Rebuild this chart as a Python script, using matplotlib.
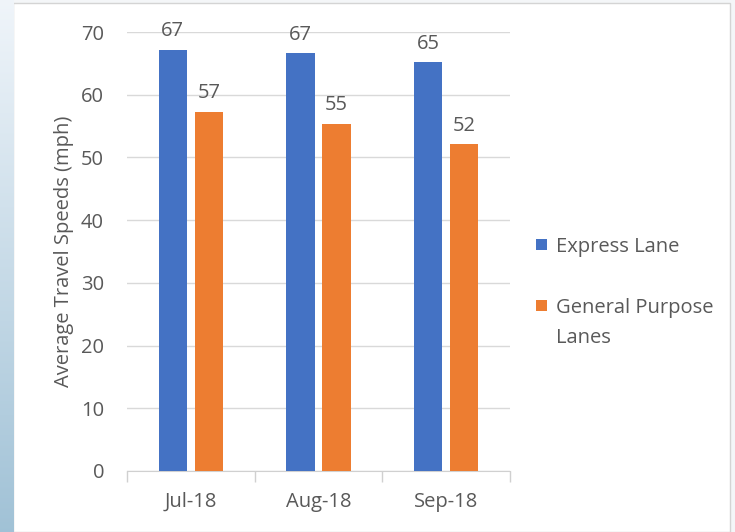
import matplotlib.pyplot as plt
from matplotlib.patches import Rectangle
import numpy as np

plt.rcParams['font.family'] = ['Open Sans', 'DejaVu Sans']

months = ["Jul-18", "Aug-18", "Sep-18"]
express = [67.2, 66.6, 65.2]
general = [57.3, 55.4, 52.1]
express_labels = ["67", "67", "65"]
general_labels = ["57", "55", "52"]
series_names = ["Express Lane", "General Purpose\nLanes"]

blue = "#4472C4"
orange = "#ED7D31"
txt = "#595959"
fs = 14.5

W, H = 735, 532
fig = plt.figure(figsize=(W / 100, H / 100), dpi=100)
fig.patch.set_facecolor("#f4f6f8")

# blue gradient strip on the left edge
bg = fig.add_axes([0, 0, 13 / W, 1])
grad = np.linspace(0, 1, 256).reshape(-1, 1)
top = np.array([0.94, 0.96, 0.98])
bot = np.array([0.63, 0.76, 0.84])
img = top[None, None, :] * (1 - grad[:, :, None]) + bot[None, None, :] * grad[:, :, None]
bg.imshow(img, aspect="auto", extent=[0, 1, 0, 1])
bg.axis("off")

# white chart panel
fig.patches.append(Rectangle((13 / W, 0), (730 - 13) / W, 1 - 3 / H,
                             transform=fig.transFigure, facecolor="white",
                             edgecolor="#d4d4d4", lw=1, zorder=-5))

ax = fig.add_axes([127 / W, 1 - 471 / H, (510 - 127) / W, (471 - 32) / H])
x = np.arange(len(months))
bw = 0.223
off = 0.141
b1 = ax.bar(x - off, express, bw, color=blue, zorder=3)
b2 = ax.bar(x + off, general, bw, color=orange, zorder=3)

for bars, labs in ((b1, express_labels), (b2, general_labels)):
    for r, lab in zip(bars, labs):
        ax.annotate(lab, (r.get_x() + r.get_width() / 2, r.get_height()),
                    xytext=(0, 6), textcoords="offset points",
                    ha="center", va="bottom", fontsize=fs, color=txt)

ax.set_ylim(0, 70)
ax.set_xlim(-0.5, 2.5)
ax.set_yticks(range(0, 71, 10))
ax.yaxis.grid(True, color="#d9d9d9", lw=1, zorder=0)
ax.tick_params(axis="y", length=0, labelsize=fs, labelcolor=txt, pad=16.5)

ax.set_xticks([-0.5, 0.5, 1.5, 2.5])
ax.set_xticklabels([])
ax.tick_params(axis="x", which="major", length=8, color="#d0d0d0", width=1)
ax.set_xticks(x, minor=True)
ax.set_xticklabels(months, minor=True)
ax.tick_params(axis="x", which="minor", length=0, labelsize=fs, labelcolor=txt, pad=15)

for s in ("top", "right", "left"):
    ax.spines[s].set_visible(False)
ax.spines["bottom"].set_color("#d0d0d0")
ax.set_facecolor("none")

ax.set_ylabel("Average Travel Speeds (mph)", fontsize=fs, color=txt, labelpad=5)

# legend, drawn by hand so the orange key sits on the first line
for name, col, ytop in zip(series_names, (blue, orange), (239, 300)):
    fig.patches.append(Rectangle((536 / W, 1 - (ytop + 11) / H), 11 / W, 11 / H,
                                 transform=fig.transFigure, facecolor=col, lw=0))
    fig.text(556 / W, 1 - (ytop - 2) / H, name, fontsize=fs, color=txt,
             ha="left", va="top", linespacing=1.68)

fig.savefig("out.png", dpi=100)
